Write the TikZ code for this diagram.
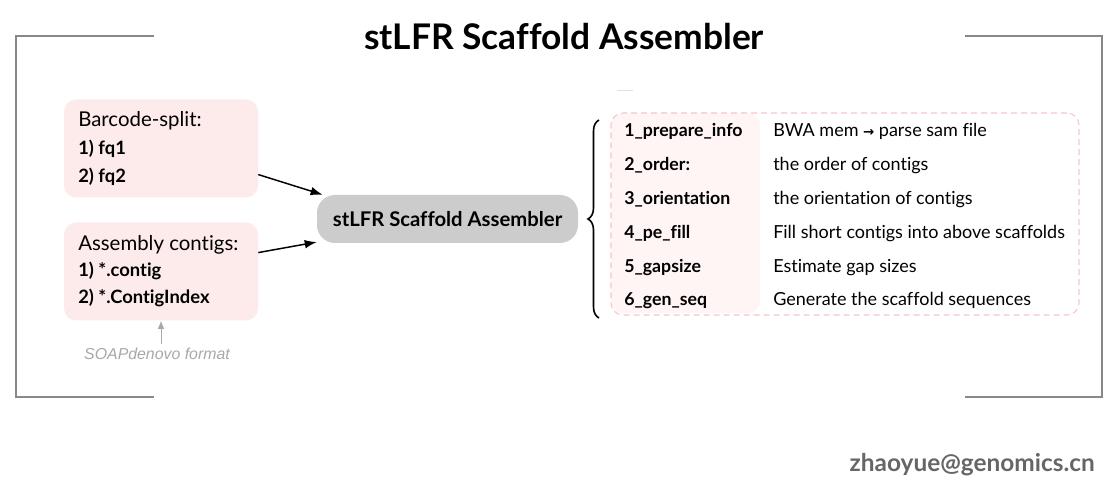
\documentclass[tikz,border=0pt]{standalone}
\usepackage{fontspec}
\setmainfont{Lato}[Ligatures=NoCommon]
\newfontfamily\arialf{Liberation Sans}
\usetikzlibrary{arrows.meta,decorations.pathreplacing,calc}
\definecolor{framegray}{HTML}{888888}
\definecolor{boxpink}{HTML}{FDEBEB}
\definecolor{dashpink}{HTML}{F6C4C9}
\definecolor{faintpink}{HTML}{FFF5F5}
\definecolor{nodegray}{HTML}{CCCCCC}
\definecolor{notegray}{HTML}{A8A8A8}
\definecolor{mailgray}{HTML}{666666}
\tikzset{
  framepart/.style={draw=framegray, line width=1.65pt},
  inbox/.style={fill=boxpink, rounded corners=9pt, minimum width=145.5pt, minimum height=73.5pt, inner sep=0pt},
  headtxt/.style={anchor=base west, inner sep=0pt, font=\fontsize{15.3pt}{17pt}\selectfont},
  itemtxt/.style={anchor=base west, inner sep=0pt, font=\bfseries\fontsize{13.8pt}{15pt}\selectfont},
  steptxt/.style={anchor=base west, inner sep=0pt, font=\bfseries\fontsize{13.3pt}{15pt}\selectfont},
  desctxt/.style={anchor=base west, inner sep=0pt, font=\fontsize{13.5pt}{15pt}\selectfont},
  flow/.style={-{Latex[length=9pt,width=6.5pt]}, line width=1.1pt, black},
}
\begin{document}
\begin{tikzpicture}[x=0.75pt,y=-0.75pt]
\useasboundingbox (0,0) rectangle (1115,484);
% frame
\draw[framepart] (154,36) -- (16,36) -- (16,397) -- (154,397);
\draw[framepart] (965,36) -- (1102,36) -- (1102,397) -- (965,397);
% title
\node[font=\bfseries\fontsize{26.5pt}{30pt}\selectfont, anchor=base, inner sep=0pt] (title) at (564,50) {stLFR Scaffold Assembler};
\draw[draw=black!12, line width=0.75pt] (617,91) -- (633,91);
% left boxes
\node[inbox] (b1) at (161,148.5) {};
\node[inbox] (b2) at (161,271.5) {};
\node[headtxt] (b1h) at (78,127) {Barcode-split:};
\node[itemtxt] (b1a) at (78,155) {1) fq1};
\node[itemtxt] (b1b) at (78,183) {2) fq2};
\node[headtxt] (b2h) at (78,251) {Assembly contigs:};
\node[itemtxt] (b2a) at (78,277) {1) *.contig};
\node[itemtxt] (b2b) at (78,304) {2) *.ContigIndex};
\node[anchor=base, inner sep=0pt, text=notegray, font=\arialf\itshape\fontsize{11.9pt}{13pt}\selectfont] (soap) at (157,360) {SOAPdenovo format};
\draw[-{Latex[length=6pt,width=5pt]}, draw=notegray, line width=0.75pt] ($(soap.north)+(4,-4)$) -- (b2.south);
% center node
\node[fill=nodegray, rounded corners=13.5pt, minimum width=195.75pt, minimum height=36pt, inner sep=0pt, font=\bfseries\fontsize{15.2pt}{17pt}\selectfont] (core) at (447.5,219) {stLFR Scaffold Assembler};
\draw[flow] (b1.-15) -- (core.169);
\draw[flow] (b2.11) -- (core.190);
% brace
\coordinate (brbot) at (599,318);
\coordinate (brtop) at (599,120);
\draw[decorate, decoration={brace, amplitude=8.25pt}, line width=1.2pt] (brbot) -- (brtop);
% steps box
\fill[faintpink, rounded corners=9pt] (611,113) rectangle (760,313);
\node[draw=dashpink, dash pattern=on 4.5pt off 3pt, line width=0.8pt, rounded corners=9pt, minimum width=351pt, minimum height=151.5pt, inner sep=0pt] (steps) at (845,214) {};
\node[steptxt] (s1) at (624,137) {1\_prepare\_info};
\node[steptxt] (s2) at (624,170.8) {2\_order:};
\node[steptxt] (s3) at (624,204.6) {3\_orientation};
\node[steptxt] (s4) at (624,238.4) {4\_pe\_fill};
\node[steptxt] (s5) at (624,272.2) {5\_gapsize};
\node[steptxt] (s6) at (624,306) {6\_gen\_seq};
\node[desctxt] (d1) at (773,137) {BWA mem {\fontspec{DejaVu Sans}\bfseries\fontsize{10pt}{11pt}\selectfont →} parse sam file};
\node[desctxt] (d2) at (773,170.8) {the order of contigs};
\node[desctxt] (d3) at (773,204.6) {the orientation of contigs};
\node[desctxt] (d4) at (773,238.4) {Fill short contigs into above scaffolds};
\node[desctxt] (d5) at (773,272.2) {Estimate gap sizes};
\node[desctxt] (d6) at (773,306) {Generate the scaffold sequences};
% email
\node[anchor=base east, inner sep=0pt, text=mailgray, font=\bfseries\fontsize{18.3pt}{20pt}\selectfont] (mail) at (1095,472) {zhaoyue@genomics.cn};
\end{tikzpicture}
\end{document}
